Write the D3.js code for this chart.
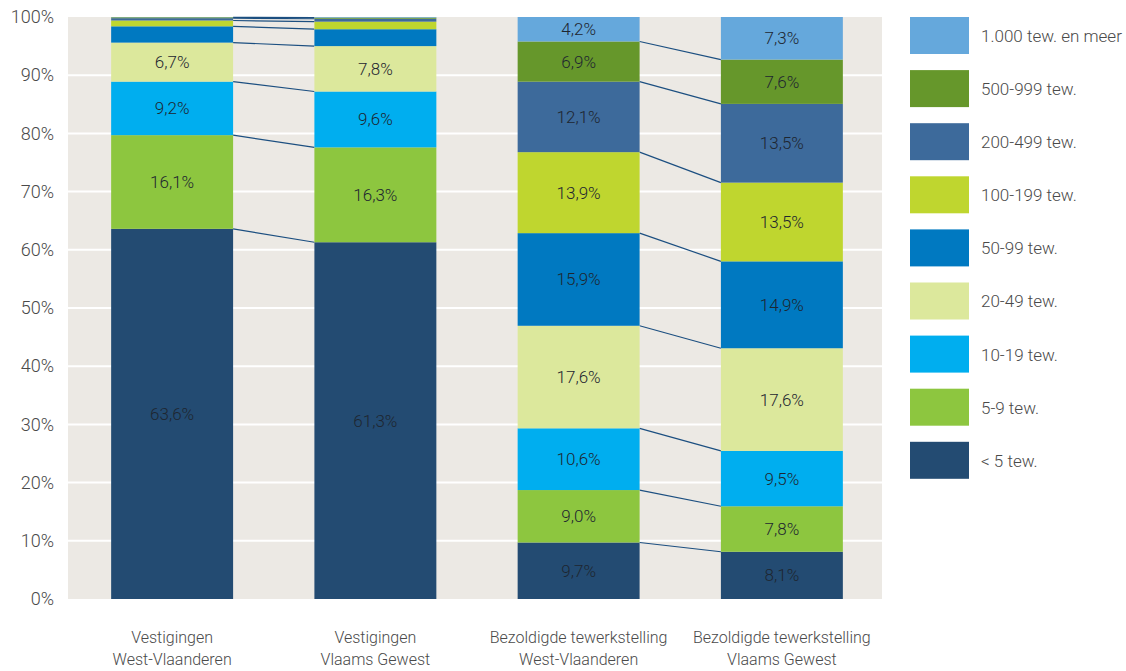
<!DOCTYPE html>
<html>
<head>
    <meta charset="UTF-8">
    <style>
        body { margin: 0; background: #fff; }
        text { font-family: Roboto, "Liberation Sans Narrow", sans-serif; font-weight: 300; fill: #4a4a4a; }
        .axis text { font-size: 18px; }
        .val { font-size: 17px; fill: #1e2630; }
        .leg { font-size: 17px; }
        .cat { font-size: 16px; }
    </style>
</head>
<body>
    <script src="https://cdn.jsdelivr.net/npm/d3@7"></script>
    <script>
        var categories = [
            ["Vestigingen", "West-Vlaanderen"],
            ["Vestigingen", "Vlaams Gewest"],
            ["Bezoldigde tewerkstelling", "West-Vlaanderen"],
            ["Bezoldigde tewerkstelling", "Vlaams Gewest"]
        ];
        var classes = ["< 5 tew.", "5-9 tew.", "10-19 tew.", "20-49 tew.", "50-99 tew.",
            "100-199 tew.", "200-499 tew.", "500-999 tew.", "1.000 tew. en meer"];
        var colors = ["#234b72", "#8dc63f", "#00aeef", "#dce89c", "#0079c1",
            "#bfd62f", "#3d6a9b", "#66972b", "#65a8dc"];
        // share per size class, one array per column
        var vestWVL = [63.6, 16.1, 9.2, 6.7, 2.8, 1.0, 0.4, 0.15, 0.05];
        var vestVL = [61.3, 16.3, 9.6, 7.8, 2.9, 1.3, 0.5, 0.2, 0.1];
        var tewWVL = [9.7, 9.0, 10.6, 17.6, 15.9, 13.9, 12.1, 6.9, 4.2];
        var tewVL = [8.1, 7.8, 9.5, 17.6, 14.9, 13.5, 13.5, 7.6, 7.3];
        var series = [vestWVL, vestVL, tewWVL, tewVL];
        var labelled = [4, 4, 9, 9]; // number of segments with a value label
        var yTicks = [0, 10, 20, 30, 40, 50, 60, 70, 80, 90, 100];

        var w = 1126, h = 671;
        var svg = d3.select("body").append("svg").attr("width", w).attr("height", h);

        var x = d3.scaleBand().domain(d3.range(4)).range([70.5, 883.5])
            .paddingInner(0.4).paddingOuter(0.2);
        var y = d3.scaleLinear().domain([0, 100]).range([599, 17]);

        svg.append("rect").attr("x", 68).attr("y", 17).attr("width", 814).attr("height", 582)
            .attr("fill", "#ece9e4");
        svg.selectAll(".grid").data(yTicks.slice(1, -1)).enter().append("line")
            .attr("x1", 68).attr("x2", 882)
            .attr("y1", d => y(d)).attr("y2", d => y(d))
            .attr("stroke", "#fff").attr("stroke-width", 2);

        var yAxis = d3.axisLeft(y).tickValues(yTicks).tickFormat(d => d + "%").tickSize(0).tickPadding(14);
        var ga = svg.append("g").attr("class", "axis").attr("transform", "translate(68,0)").call(yAxis);
        ga.select(".domain").remove();
        ga.selectAll("text").attr("fill", "#4a4a4a");

        // stacked segments, each column scaled to a full 100%
        var stacks = series.map(s => {
            var c = 0, tot = d3.sum(s);
            return s.map(v => { var a = c; c += v; return [a * 100 / tot, c * 100 / tot]; });
        });

        // connector lines (segment boundaries, not the 100% top)
        [[0, 1], [2, 3]].forEach(p => {
            svg.append("g").selectAll("line").data(d3.range(8)).enter().append("line")
                .attr("x1", x(p[0]) + x.bandwidth()).attr("x2", x(p[1]))
                .attr("y1", i => y(stacks[p[0]][i][1])).attr("y2", i => y(stacks[p[1]][i][1]))
                .attr("stroke", "#1c4f80").attr("stroke-width", 1.2);
        });

        stacks.forEach((st, bi) => {
            var g = svg.append("g");
            g.selectAll("rect").data(st).enter().append("rect")
                .attr("x", x(bi)).attr("width", x.bandwidth())
                .attr("y", d => y(d[1])).attr("height", d => y(d[0]) - y(d[1]))
                .attr("fill", (d, i) => colors[i]);
            g.selectAll("text").data(st.slice(0, labelled[bi])).enter().append("text")
                .attr("class", "val")
                .attr("x", x(bi) + x.bandwidth() / 2)
                .attr("y", d => y((d[0] + d[1]) / 2))
                .attr("dy", "0.35em").attr("text-anchor", "middle")
                .text((d, i) => series[bi][i].toFixed(1).replace(".", ",") + "%");
        });

        // category labels
        categories.forEach((c, i) => {
            var t = svg.append("text").attr("class", "cat").attr("text-anchor", "middle")
                .attr("x", x(i) + x.bandwidth() / 2).attr("y", 643);
            t.append("tspan").attr("x", x(i) + x.bandwidth() / 2).text(c[0]);
            t.append("tspan").attr("x", x(i) + x.bandwidth() / 2).attr("dy", 22).text(c[1]);
        });

        // legend
        var leg = svg.append("g").selectAll("g").data(d3.range(8, -1, -1)).enter().append("g")
            .attr("transform", (d, i) => "translate(910," + (17 + i * 53.1) + ")");
        leg.append("rect").attr("width", 59).attr("height", 37).attr("fill", d => colors[d]);
        leg.append("text").attr("class", "leg").attr("x", 71).attr("y", 19).attr("dy", "0.35em")
            .text(d => classes[d]);
    </script>
</body>
</html>
